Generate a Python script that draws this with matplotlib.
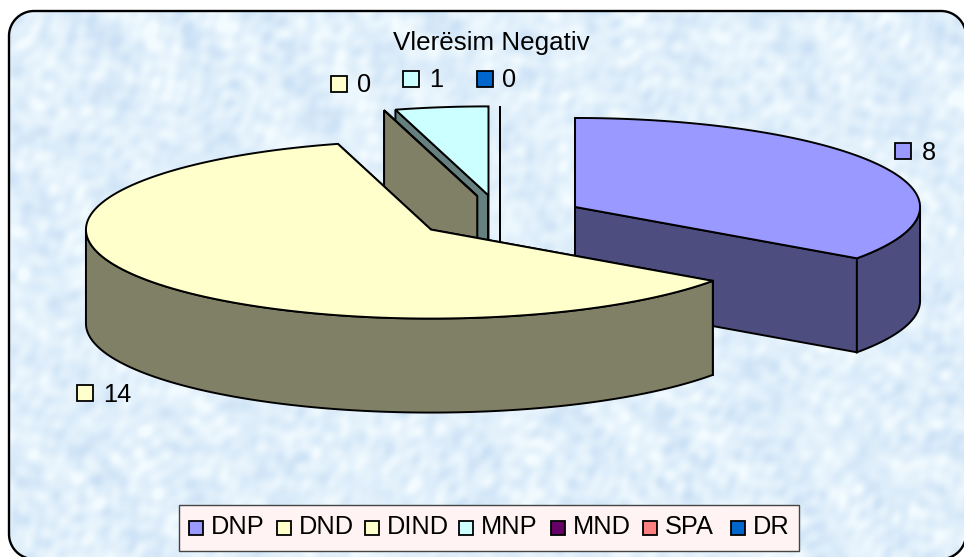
import numpy as np
import matplotlib
matplotlib.use("Agg")
import matplotlib.pyplot as plt
from matplotlib.patches import Polygon, Rectangle

plt.rcParams['font.family'] = ['Liberation Sans', 'DejaVu Sans']

# ---- data ----
title = "Vlerësim Negativ"
categories = ["DNP", "DND", "DIND", "MNP", "MND", "SPA", "DR"]
values = [8, 14, 0, 1, None, None, 0]   # MND and SPA have no value
top_colors = ["#9999FF", "#FFFFCC", "#FFFFCC", "#CCFFFF", "#660066", "#FF8080", "#0066CC"]
side_colors = ["#4D4D80", "#808066", "#808066", "#668080", "#330033", "#804040", "#003366"]

# ---- layout (pixel space) ----
W, H = 964, 557
CX, CY = 500.0, 217.0
A, B, DEPTH = 345.0, 89.0, 94.0
EXPLODE = 0.245
FS = 18.3
EDGE = dict(edgecolor="black", linewidth=1.4, joinstyle="miter")

fig = plt.figure(figsize=(W / 100, H / 100), dpi=100, facecolor="white")
ax = fig.add_axes([0, 0, 1, 1])
ax.axis("off")

# mottled chart-area texture built from many deterministic waves
yy, xx = np.mgrid[0:H, 0:W]
tex = np.zeros((H, W))
golden = np.pi * (3 - np.sqrt(5))
for k in range(1, 81):
    d = k * golden
    f = 0.05 + 0.42 * ((k * 0.618034) % 1)
    warp = 1.4 * np.sin(0.031 * xx * np.cos(k) + 0.037 * yy * np.sin(k) + k)
    tex += np.sin(f * (xx * np.cos(d) + yy * np.sin(d)) + 2.399 * k + warp) / (0.5 + 3 * f)
tex = (tex - tex.mean()) / tex.std()
tex = np.clip(0.55 + tex / 5.5, 0, 1)
low = np.array([0.80, 0.885, 0.965])
high = np.array([0.95, 0.985, 1.0])
img = low + (high - low) * tex[..., None]
im = ax.imshow(img, extent=(0, W, H, 0), aspect="auto", zorder=0, interpolation="bilinear")
ax.set_xlim(0, W)
ax.set_ylim(H, 0)

# rounded frame, partly running off the canvas at the right and bottom
R = 25
LEFT, TOP, RIGHT, BOTTOM = 9, 11, 966, 559
frame_pts = []
for cx, cy, start in [(RIGHT - R, TOP + R, -90), (RIGHT - R, BOTTOM - R, 0),
                      (LEFT + R, BOTTOM - R, 90), (LEFT + R, TOP + R, 180)]:
    t = np.radians(np.linspace(start, start + 90, 24))
    frame_pts += list(zip(cx + R * np.cos(t), cy + R * np.sin(t)))
frame = Polygon(frame_pts, closed=True, facecolor="none", edgecolor="black", linewidth=1.7, zorder=1)
ax.add_patch(frame)
im.set_clip_path(frame)


def pt(c, theta):
    return c[0] + A * np.sin(theta), c[1] - B * np.cos(theta)


total = sum(v for v in values if v is not None)
slices = {}
angle = 0.0
for i, v in enumerate(values):
    if v is None:
        continue
    sweep = 2 * np.pi * v / total
    mid = angle + sweep / 2
    centre = (CX + EXPLODE * A * np.sin(mid), CY - EXPLODE * B * np.cos(mid))
    slices[i] = (angle, angle + sweep, centre)
    angle += sweep

present = list(slices)
order = [present[0]] + present[:0:-1]
z = 2
for i in order:
    a0, a1, c = slices[i]
    # cut faces
    for a in (a0, a1):
        x, y = pt(c, a)
        ax.add_patch(Polygon([c, (x, y), (x, y + DEPTH), (c[0], c[1] + DEPTH)],
                             closed=True, facecolor=side_colors[i], zorder=z, **EDGE))
        z += 1
    # outer face, visible on the front half only
    lo, hi = max(a0, np.pi / 2), min(a1, 3 * np.pi / 2)
    if hi > lo:
        t = np.linspace(lo, hi, 80)
        xs, ys = pt(c, t)
        pts = list(zip(xs, ys)) + list(zip(xs[::-1], ys[::-1] + DEPTH))
        ax.add_patch(Polygon(pts, closed=True, facecolor=side_colors[i], zorder=z, **EDGE))
        z += 1
    # top face
    t = np.linspace(a0, a1, 120)
    xs, ys = pt(c, t)
    ax.add_patch(Polygon([c] + list(zip(xs, ys)), closed=True, facecolor=top_colors[i], zorder=z, **EDGE))
    z += 1

ax.text(491, 50, title, ha="center", va="baseline", fontsize=18.7, color="black", zorder=50)

# data labels: (index, swatch x, swatch y, text x, baseline y)
label_pos = [(0, 895, 143, 922, 160), (1, 77, 385, 103, 402), (2, 331, 76, 357, 92),
             (3, 403, 71, 429, 87), (6, 477, 71, 502, 87)]
for i, sx, sy, tx, ty in label_pos:
    ax.add_patch(Rectangle((sx, sy), 16, 16, facecolor=top_colors[i], edgecolor="black",
                           linewidth=1.3, zorder=50))
    ax.text(tx, ty, str(values[i]), ha="left", va="baseline", fontsize=FS, zorder=50)

# legend
ax.add_patch(Rectangle((179, 505), 620, 46, facecolor="#FFF3F3", edgecolor="#444444",
                       linewidth=1.0, zorder=50))
swatch_x = [189, 277, 365, 459, 551, 643, 731]
for i, name in enumerate(categories):
    ax.add_patch(Rectangle((swatch_x[i], 521), 14, 14, facecolor=top_colors[i], edgecolor="black",
                           linewidth=1.3, zorder=51))
    ax.text(swatch_x[i] + 22, 534, name, ha="left", va="baseline", fontsize=FS, zorder=51)

fig.savefig("out.png", dpi=100, facecolor="white")
